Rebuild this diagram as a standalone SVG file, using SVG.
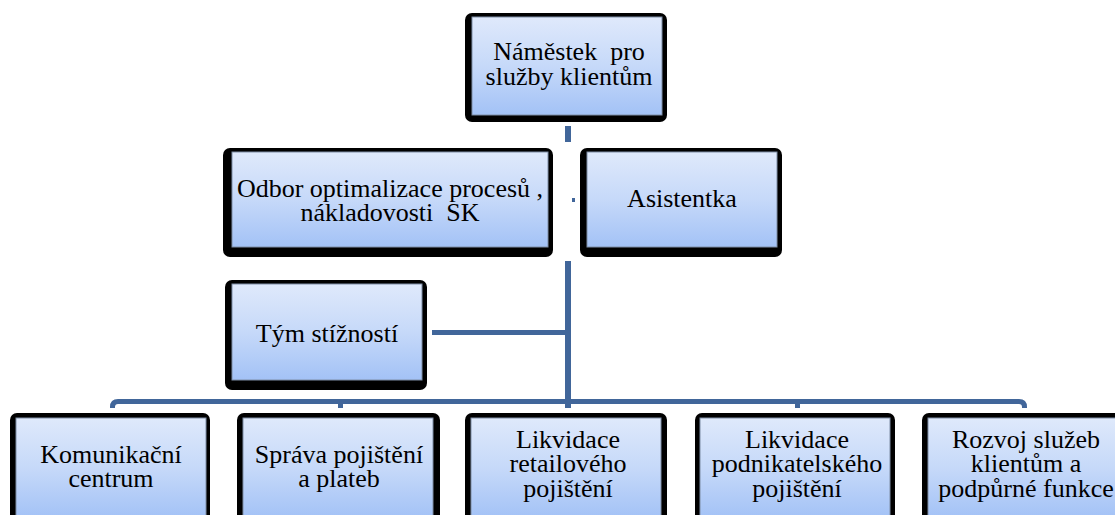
<svg xmlns="http://www.w3.org/2000/svg" width="1115" height="515" viewBox="0 0 1115 515">
<defs>
<linearGradient id="fill" x1="0" y1="0" x2="0" y2="1">
<stop offset="0" stop-color="#dfe9fb"/>
<stop offset="0.5" stop-color="#c6d9f9"/>
<stop offset="1" stop-color="#a3c2f6"/>
</linearGradient>
<style>
.sh{fill:#000;}
.bx{fill:url(#fill);stroke:#7f8ea6;stroke-width:1;}
text{font-family:'Liberation Serif','DejaVu Serif',serif;font-size:26px;fill:#000;text-anchor:middle;white-space:pre;}
.c{fill:#41669a;}
</style>
</defs>
<rect width="1115" height="515" fill="#fff"/>
<g id="connectors">
<rect class="c" x="565" y="126" width="6" height="16"/>
<rect class="c" x="572" y="198" width="3" height="4"/>
<rect class="c" x="565" y="261" width="6" height="144"/>
<rect class="c" x="432" y="330" width="136" height="5"/>
<path d="M112.5 408 V407 Q112.5 401.5 118 401.5 H1019 Q1024.5 401.5 1024.5 407 V408" fill="none" stroke="#41669a" stroke-width="5"/>
<rect class="c" x="338" y="401" width="5" height="7"/>
<rect class="c" x="565" y="401" width="6" height="7"/>
<rect class="c" x="795" y="401" width="5" height="7"/>
</g>
<g id="n-namestek">
<rect class="sh" x="465" y="13" width="202" height="109" rx="7"/>
<rect class="bx" x="472" y="17" width="190" height="98"/>
<text font-family="Liberation Serif, serif" xml:space="preserve"><tspan x="569" y="60">Náměstek  pro</tspan><tspan x="569" y="85">služby klientům</tspan></text>
</g>
<g id="n-odbor">
<rect class="sh" x="223" y="148" width="330" height="109" rx="7"/>
<rect class="bx" x="232" y="152" width="316" height="95"/>
<text font-family="Liberation Serif, serif" xml:space="preserve"><tspan x="390" y="197">Odbor optimalizace procesů ,</tspan><tspan x="390" y="221">nákladovosti  SK</tspan></text>
</g>
<g id="n-asistentka">
<rect class="sh" x="580" y="148" width="202" height="109" rx="7"/>
<rect class="bx" x="587" y="152" width="190" height="95"/>
<text font-family="Liberation Serif, serif" x="682" y="207">Asistentka</text>
</g>
<g id="n-tym">
<rect class="sh" x="225" y="280" width="202" height="110" rx="7"/>
<rect class="bx" x="232" y="284" width="190" height="96"/>
<text font-family="Liberation Serif, serif" x="327" y="342">Tým stížností</text>
</g>
<g id="n-komunikacni">
<rect class="sh" x="10" y="413" width="200" height="115" rx="7"/>
<rect class="bx" x="16" y="418" width="190" height="100"/>
<text font-family="Liberation Serif, serif"><tspan x="111" y="463">Komunikační</tspan><tspan x="111" y="487">centrum</tspan></text>
</g>
<g id="n-sprava">
<rect class="sh" x="237" y="413" width="203" height="115" rx="7"/>
<rect class="bx" x="243" y="418" width="190" height="100"/>
<text font-family="Liberation Serif, serif"><tspan x="339" y="463">Správa pojištění</tspan><tspan x="339" y="487">a plateb</tspan></text>
</g>
<g id="n-likv-retail">
<rect class="sh" x="465" y="413" width="202" height="115" rx="7"/>
<rect class="bx" x="471" y="418" width="190" height="100"/>
<text font-family="Liberation Serif, serif"><tspan x="568" y="448">Likvidace</tspan><tspan x="568" y="472">retailového</tspan><tspan x="568" y="497">pojištění</tspan></text>
</g>
<g id="n-likv-podnik">
<rect class="sh" x="695" y="413" width="200" height="115" rx="7"/>
<rect class="bx" x="700" y="418" width="190" height="100"/>
<text font-family="Liberation Serif, serif"><tspan x="797" y="448">Likvidace</tspan><tspan x="797" y="472">podnikatelského</tspan><tspan x="797" y="497">pojištění</tspan></text>
</g>
<g id="n-rozvoj">
<rect class="sh" x="922" y="413" width="203" height="115" rx="7"/>
<rect class="bx" x="928" y="418" width="195" height="100"/>
<text font-family="Liberation Serif, serif"><tspan x="1026" y="448">Rozvoj služeb</tspan><tspan x="1026" y="472">klientům a</tspan><tspan x="1026" y="497">podpůrné funkce</tspan></text>
</g>
</svg>
